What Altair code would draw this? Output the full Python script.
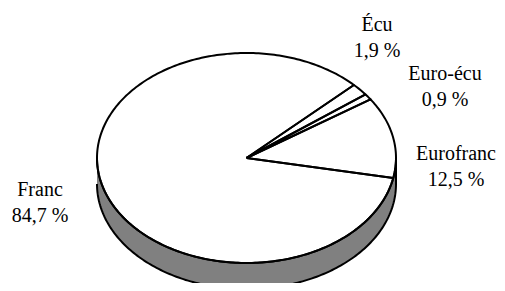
import numpy as np
import pandas as pd
import altair as alt

# ---- data ----
labels = ["Eurofranc", "Euro-écu", "Écu", "Franc"]
shares = [12.5, 0.9, 1.9, 84.7]
share_text = ["12,5 %", "0,9 %", "1,9 %", "84,7 %"]

# ---- layout constants (page pixels) ----
CX, CY, RX, RY, DEPTH = 246.5, 158.0, 149.5, 105.0, 26.0
START = -11.0  # degrees, counter-clockwise start of the first slice
LABEL_POS = {"Eurofranc": (456, 160), "Euro-écu": (445, 80),
             "Écu": (377, 31), "Franc": (40, 196)}
W, H = 489, 275

# top face slices, built from the shares
rows = []
cum = 0.0
for lab, s in zip(labels, shares):
    a0 = START + cum * 3.6
    a1 = a0 + s * 3.6
    cum += s
    n = max(3, int(abs(a1 - a0)))
    pts = [(CX, CY)]
    for a in np.linspace(a0, a1, n):
        r = np.radians(a)
        pts.append((CX + RX * np.cos(r), CY - RY * np.sin(r)))
    pts.append((CX, CY))
    for i, (x, y) in enumerate(pts):
        rows.append({"slice": lab, "i": i, "x": x, "y": y})
top_df = pd.DataFrame(rows)

# side wall (front half of the disc)
phi = np.radians(np.linspace(180, 360, 181))
wx = CX + RX * np.cos(phi)
wy = CY - RY * np.sin(phi)
wall_df = pd.DataFrame({"x": wx, "y": wy, "y2": wy + DEPTH})

# wall outline: top arc forward, bottom arc back
outline_df = pd.DataFrame({
    "x": np.concatenate([wx, wx[::-1]]),
    "y": np.concatenate([wy, (wy + DEPTH)[::-1]]),
})
outline_df["i"] = range(len(outline_df))

label_df = pd.DataFrame({
    "slice": labels,
    "text": [f"{l}\n{t}" for l, t in zip(labels, share_text)],
    "x": [LABEL_POS[l][0] for l in labels],
    "y": [LABEL_POS[l][1] for l in labels],
})

xs = alt.Scale(domain=[8, 8 + W], nice=False, zero=False)
ys = alt.Scale(domain=[8, 8 + H], nice=False, zero=False, reverse=True)

wall = alt.Chart(wall_df).mark_area(
    orient="vertical", color="#808080", opacity=1
).encode(
    x=alt.X("x:Q", scale=xs, axis=None),
    y=alt.Y("y:Q", scale=ys, axis=None),
    y2="y2:Q",
)

wall_line = alt.Chart(outline_df).mark_line(
    color="black", strokeWidth=2, strokeJoin="round"
).encode(
    x=alt.X("x:Q", scale=xs, axis=None),
    y=alt.Y("y:Q", scale=ys, axis=None),
    order=alt.Order("i:Q"),
)

top = alt.Chart(top_df).mark_line(
    color="black", strokeWidth=2, strokeJoin="round"
).encode(
    x=alt.X("x:Q", scale=xs, axis=None),
    y=alt.Y("y:Q", scale=ys, axis=None),
    detail="slice:N",
    order=alt.Order("i:Q"),
)

text = alt.Chart(label_df).mark_text(
    font="Liberation Serif", fontSize=20, color="black", align="center",
    baseline="alphabetic", lineBreak="\n", lineHeight=26
).encode(
    x=alt.X("x:Q", scale=xs, axis=None),
    y=alt.Y("y:Q", scale=ys, axis=None),
    text="text:N",
)

chart = alt.layer(wall, wall_line, top, text).properties(
    width=W, height=H, padding=0, autosize="none", background="white"
).configure_view(stroke=None)

chart.save("out.html", embed_options={"renderer": "svg", "actions": False})
